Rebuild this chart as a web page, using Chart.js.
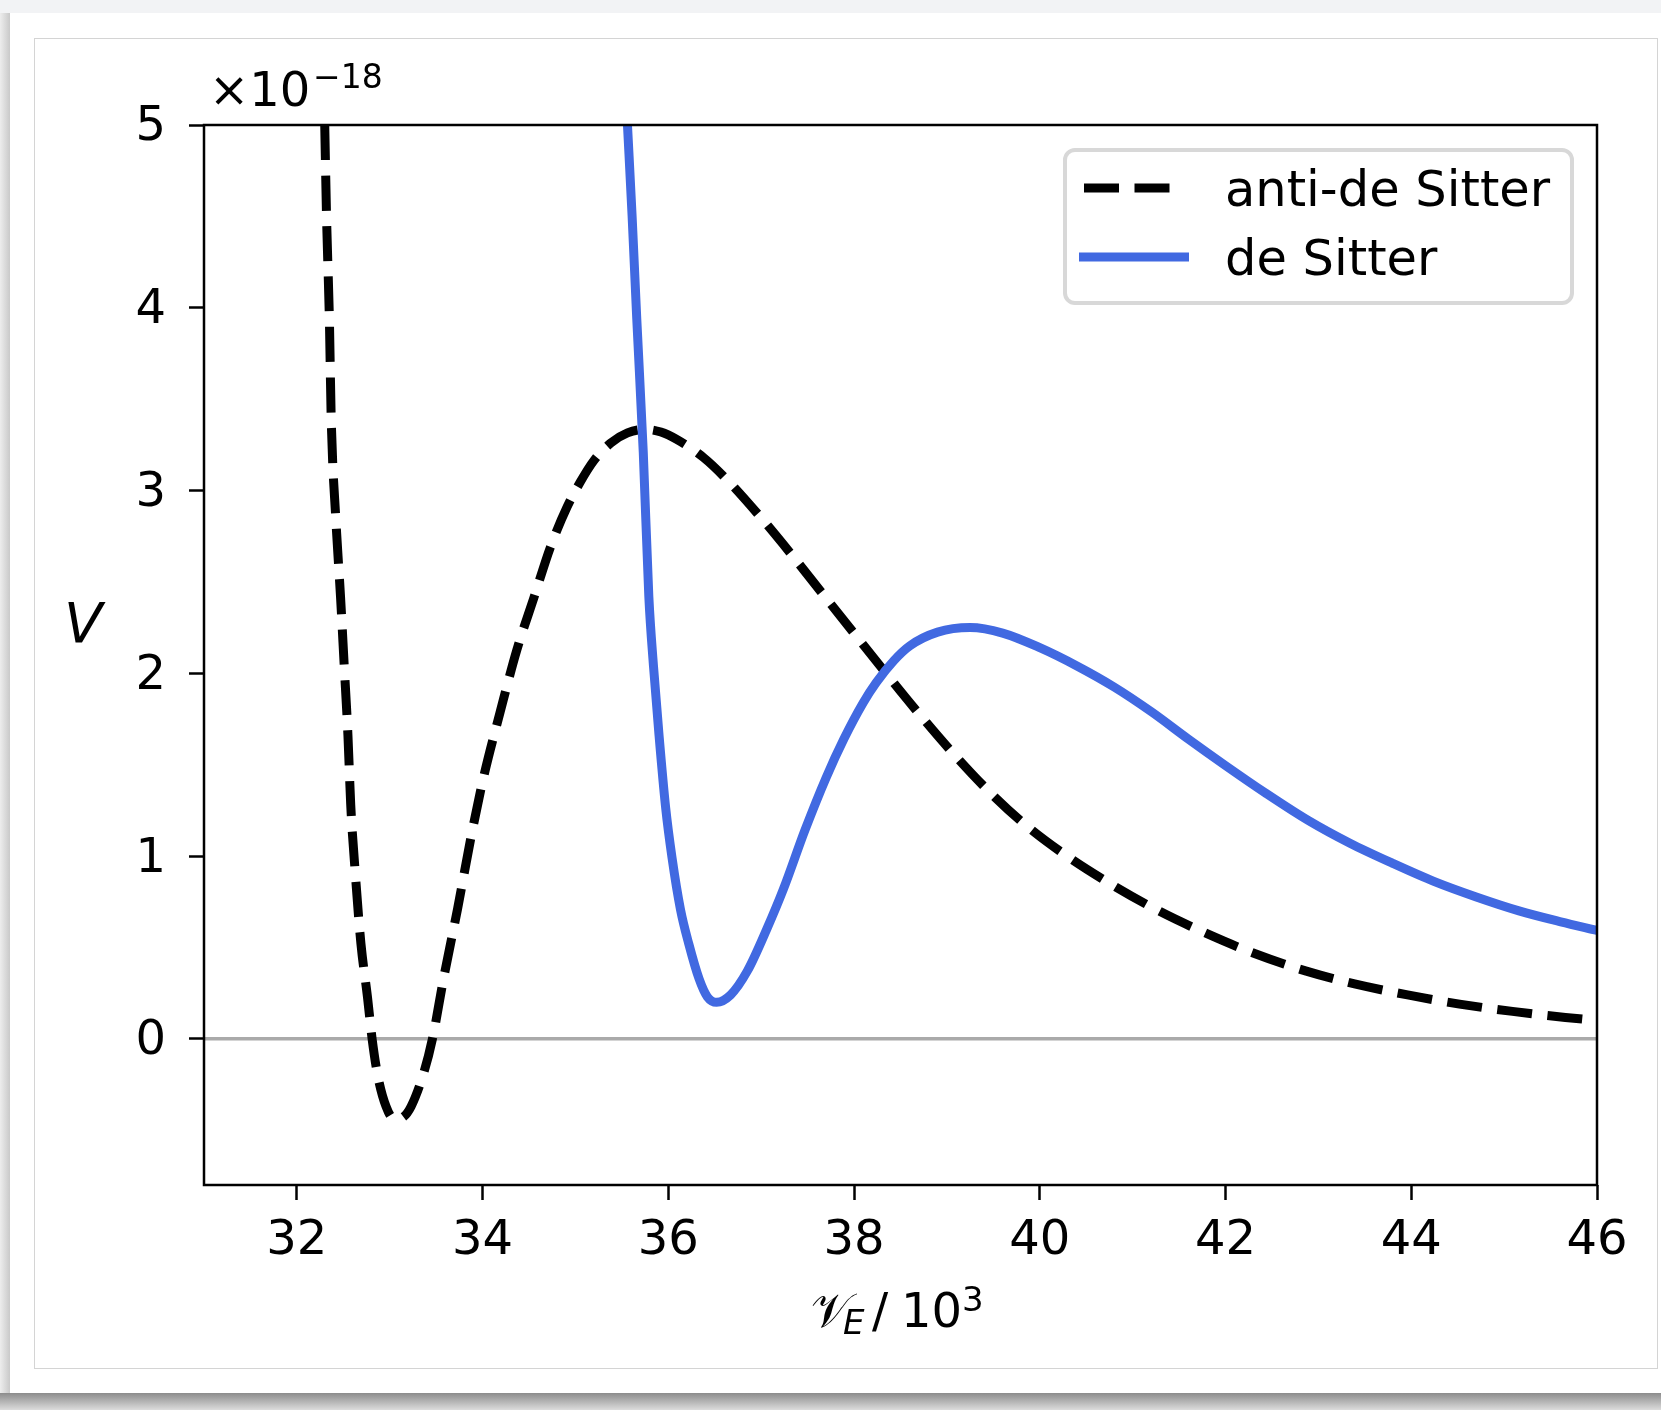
<!DOCTYPE html>
<html>
<head>
<meta charset="utf-8">
<script src="https://cdn.jsdelivr.net/npm/chart.js@4.4.1/dist/chart.umd.min.js"></script>
<style>
  html, body { margin: 0; padding: 0; width: 1661px; height: 1410px; overflow: hidden; background: #f2f3f5; }
  #shadowLeft { position: absolute; left: 0; top: 13px; width: 10px; height: 1380px; background: linear-gradient(to right, #ededed, #c9c9c9); }
  #shadowBottom { position: absolute; left: 0; top: 1393px; width: 1661px; height: 17px; background: linear-gradient(to bottom, #8c8c8c, #c4c4c4 70%, #dcdcdc); }
  #card { position: absolute; left: 10px; top: 13px; width: 1720px; height: 1380px; background: #fff; }
  #frame { position: absolute; left: 34px; top: 38px; width: 1622px; height: 1329px; border: 1px solid #d4d4d4; background: #fff; }
  canvas { position: absolute; left: 0; top: 0; }
</style>
</head>
<body>
<div id="shadowLeft"></div>
<div id="shadowBottom"></div>
<div id="card"></div>
<div id="frame"></div>
<canvas id="myChart" width="1661" height="1410"></canvas>
<script>
// values (V in units of 1e-18, x in units of 1e3)
var adsX = [32.30, 32.32, 32.35, 32.37, 32.42, 32.47, 32.51, 32.55, 32.58, 32.63, 32.69, 32.76, 32.81, 32.87, 32.96,
            33.05, 33.14, 33.23, 33.37, 33.46, 33.58, 33.73, 33.87, 34.01, 34.19, 34.37, 34.55, 34.73, 34.91, 35.05,
            35.20, 35.38, 35.56, 35.75, 35.92, 36.09, 36.38, 36.63, 36.95, 37.31, 37.63, 37.99, 38.32, 38.64, 39.07,
            39.46, 39.87, 40.32, 40.77, 41.28, 41.80, 42.32, 42.87, 43.39, 43.96, 44.52, 45.09, 45.66, 46.00];
var adsY = [5.00, 4.49, 3.94, 3.39, 2.84, 2.42, 2.04, 1.66, 1.28, 0.90, 0.52, 0.23, 0.00, -0.20, -0.37,
            -0.44, -0.43, -0.37, -0.18, 0.00, 0.33, 0.71, 1.09, 1.43, 1.79, 2.13, 2.41, 2.69, 2.91, 3.045,
            3.165, 3.26, 3.315, 3.335, 3.32, 3.28, 3.18, 3.06, 2.88, 2.66, 2.455, 2.225, 2.015, 1.815, 1.56,
            1.35, 1.16, 0.99, 0.845, 0.70, 0.575, 0.465, 0.37, 0.30, 0.24, 0.19, 0.15, 0.117, 0.10];

var dsX = [35.56, 35.61, 35.66, 35.73, 35.79, 35.84, 35.90, 35.97, 36.04, 36.13, 36.22, 36.33, 36.42, 36.52, 36.67,
           36.85, 37.06, 37.24, 37.47, 37.70, 37.89, 38.10, 38.24, 38.43, 38.60, 38.90, 39.25, 39.60, 40.00, 40.40,
           40.80, 41.20, 41.60, 42.00, 42.43, 42.89, 43.34, 43.80, 44.25, 44.70, 45.16, 45.61, 46.00];
var dsY = [5.00, 4.50, 3.94, 3.21, 2.42, 2.04, 1.66, 1.27, 0.99, 0.71, 0.52, 0.33, 0.23, 0.20, 0.24,
           0.37, 0.60, 0.82, 1.14, 1.43, 1.64, 1.84, 1.95, 2.07, 2.15, 2.225, 2.25, 2.22, 2.14, 2.04,
           1.925, 1.79, 1.64, 1.495, 1.345, 1.195, 1.07, 0.96, 0.86, 0.776, 0.70, 0.64, 0.593];

var xRange = [31, 46];
var yRange = [-0.8, 5];
var xTicks = [32, 34, 36, 38, 40, 42, 44, 46];
var yTicks = [0, 1, 2, 3, 4, 5];
var seriesNames = ['anti-de Sitter', 'de Sitter'];

function pts(xs, ys) {
  return xs.map(function (x, i) { return { x: x, y: ys[i] }; });
}

var FONT = 'DejaVu Sans';

var decor = {
  id: 'decor',
  afterDatasetsDraw: function (chart) {
    var ctx = chart.ctx, a = chart.chartArea;
    ctx.save();
    // frame
    ctx.strokeStyle = '#000';
    ctx.lineWidth = 2.5;
    ctx.strokeRect(a.left, a.top, a.right - a.left, a.bottom - a.top);

    ctx.fillStyle = '#000';
    ctx.textBaseline = 'alphabetic';
    ctx.textAlign = 'left';
    // offset text
    ctx.font = '48px "' + FONT + '"';
    ctx.fillText('\u00d710', 209, 106);
    ctx.font = '33px "' + FONT + '"';
    ctx.fillText('\u221218', 313, 88);

    // y label
    ctx.font = 'italic 56px "' + FONT + '"';
    ctx.fillText('V', 64, 642);

    // x label
    ctx.font = '48px "' + FONT + '"';
    ctx.fillText('\ud835\udcb1', 811, 1327);
    ctx.font = 'italic 34px "' + FONT + '"';
    ctx.fillText('E', 843, 1334);
    ctx.font = '48px "' + FONT + '"';
    ctx.fillText('/', 872, 1327);
    ctx.fillText('10', 901, 1327);
    ctx.font = '34px "' + FONT + '"';
    ctx.fillText('3', 962, 1311);

    // legend
    ctx.beginPath();
    ctx.roundRect(1065, 150, 507, 153, 10);
    ctx.fillStyle = 'rgba(255,255,255,0.85)';
    ctx.fill();
    ctx.strokeStyle = '#d8d8d8';
    ctx.lineWidth = 4;
    ctx.stroke();

    var ds = chart.data.datasets;
    var rows = [188, 257];
    for (var i = 0; i < 2; i++) {
      ctx.beginPath();
      ctx.strokeStyle = ds[i].borderColor;
      ctx.lineWidth = ds[i].borderWidth;
      ctx.lineCap = 'butt';
      ctx.setLineDash(ds[i].borderDash || []);
      if (ds[i].borderDash) { ctx.moveTo(1084, rows[i]); ctx.lineTo(1174, rows[i]); }
      else { ctx.moveTo(1079, rows[i]); ctx.lineTo(1189, rows[i]); }
      ctx.stroke();
      ctx.setLineDash([]);
      ctx.fillStyle = '#000';
      ctx.font = '49.5px "' + FONT + '"';
      ctx.textBaseline = 'middle';
      ctx.fillText(ds[i].label, 1225, rows[i] + 5);
    }
    ctx.restore();
  }
};

var data = {
  datasets: [{
    label: seriesNames[0],
    data: pts(adsX, adsY),
    borderColor: '#000000',
    borderWidth: 9,
    borderDash: [35, 15.5],
    borderCapStyle: 'butt',
    pointRadius: 0,
    cubicInterpolationMode: 'monotone',
    clip: 0,
    order: 1
  }, {
    label: seriesNames[1],
    data: pts(dsX, dsY),
    borderColor: 'rgb(65, 105, 225)',
    borderWidth: 9,
    pointRadius: 0,
    cubicInterpolationMode: 'monotone',
    clip: 0,
    order: 0
  }, {
    label: 'zero',
    data: pts(xRange, [0, 0]),
    borderColor: '#aaaaaa',
    borderWidth: 3.5,
    pointRadius: 0,
    clip: 0,
    order: 2
  }]
};

var tickFont = { family: FONT, size: 48 };

var config = {
  type: 'line',
  data: data,
  options: {
    responsive: false,
    animation: false,
    layout: { padding: { left: 0, top: 125, right: 64, bottom: 125 } },
    plugins: { legend: { display: false }, tooltip: { enabled: false } },
    scales: {
      x: {
        type: 'linear', min: xRange[0], max: xRange[1],
        afterBuildTicks: function (s) { s.ticks = xTicks.map(function (v) { return { value: v }; }); },
        afterFit: function (s) { s.height = 100; },
        border: { display: false },
        grid: { drawOnChartArea: false, tickLength: 15, tickWidth: 2.5, tickColor: '#000' },
        ticks: { font: tickFont, color: '#000', padding: 13, maxRotation: 0 }
      },
      y: {
        type: 'linear', min: yRange[0], max: yRange[1],
        afterBuildTicks: function (s) { s.ticks = yTicks.map(function (v) { return { value: v }; }); },
        afterFit: function (s) { s.width = 204; },
        border: { display: false },
        grid: { drawOnChartArea: false, tickLength: 15, tickWidth: 2.5, tickColor: '#000' },
        ticks: { font: tickFont, color: '#000', padding: 23, labelOffset: 3 }
      }
    }
  },
  plugins: [decor]
};

var myChart = new Chart(document.getElementById('myChart'), config);
</script>
</body>
</html>
